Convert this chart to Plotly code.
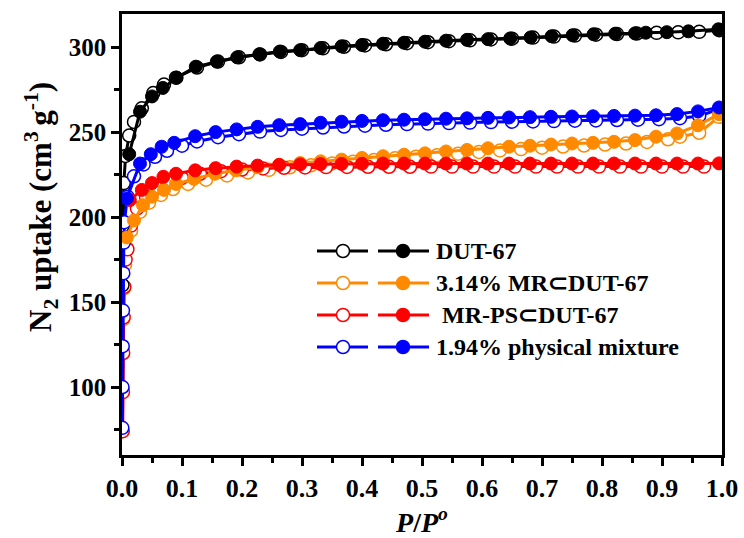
import plotly.graph_objects as go

# ---------------- data ----------------
series_names = ["DUT-67", "3.14% MR\u2282DUT-67", " MR-PS\u2282DUT-67", "1.94% physical mixture"]
series_colors = ["#000000", "#FF8A00", "#FF0000", "#0000FF"]

# DUT-67 (black)
bo_x = [0.0008, 0.0015, 0.003, 0.006, 0.012, 0.02, 0.033, 0.052, 0.07, 0.09, 0.125, 0.16, 0.195, 0.23, 0.265, 0.30, 0.335, 0.37, 0.405, 0.44, 0.475, 0.51, 0.545, 0.58, 0.615, 0.65, 0.685, 0.72, 0.755, 0.79, 0.825, 0.858, 0.891, 0.927, 0.962, 0.995]
bo_y = [160, 195, 220, 236, 248, 256, 264, 273, 278, 282, 288, 291.5, 294, 295.7, 297.2, 298.2, 299.3, 300.2, 301, 301.7, 302.3, 302.9, 303.5, 304, 304.5, 305, 305.6, 306.2, 306.8, 307.3, 307.7, 308, 308.4, 308.7, 309, 310]
bf_x = [0.012, 0.03, 0.05, 0.068, 0.091, 0.123, 0.158, 0.192, 0.229, 0.263, 0.297, 0.331, 0.366, 0.40, 0.435, 0.47, 0.505, 0.54, 0.575, 0.61, 0.647, 0.681, 0.716, 0.751, 0.786, 0.822, 0.855, 0.873, 0.908, 0.944, 0.994]
bf_y = [237, 262, 271, 276, 282, 288.5, 291.5, 294, 295.8, 297.4, 298.2, 299.5, 300.5, 301.3, 302, 302.6, 303.2, 303.8, 304.3, 304.7, 305.1, 305.7, 306.4, 307, 307.6, 307.9, 308.1, 308.5, 308.8, 309.3, 310.5]

# 3.14% MR in DUT-67 (orange)
oo_x = [0.0006, 0.001, 0.0015, 0.002, 0.003, 0.005, 0.008, 0.015, 0.03, 0.045, 0.065, 0.085, 0.11, 0.14, 0.175, 0.21, 0.245, 0.28, 0.315, 0.35, 0.385, 0.42, 0.455, 0.49, 0.525, 0.56, 0.595, 0.63, 0.665, 0.70, 0.735, 0.77, 0.805, 0.84, 0.875, 0.91, 0.93, 0.962, 0.995]
oo_y = [74, 98, 121, 140, 158, 172, 182, 192, 203, 208.5, 213, 216.5, 219.5, 222, 224.5, 226.3, 227.8, 229.3, 230.5, 231.6, 232.6, 233.6, 234.6, 235.5, 236.4, 237.3, 238.3, 239.2, 240, 240.8, 241.5, 242.1, 242.7, 243.3, 244.2, 245.8, 247.3, 249.6, 259]
of_x = [0.008, 0.02, 0.035, 0.05, 0.07, 0.09, 0.12, 0.155, 0.19, 0.226, 0.262, 0.297, 0.331, 0.366, 0.40, 0.435, 0.47, 0.505, 0.54, 0.575, 0.61, 0.645, 0.68, 0.715, 0.75, 0.785, 0.82, 0.855, 0.89, 0.925, 0.96, 0.995]
of_y = [188, 198, 207, 212, 216, 219.5, 222.5, 225.5, 227.5, 229.3, 230.8, 231.8, 232.8, 233.8, 234.8, 235.8, 236.7, 237.5, 238.6, 239.5, 240.5, 241.4, 242, 242.7, 243.3, 243.7, 244.3, 245.3, 247.3, 249.2, 254, 260.6]

# MR-PS in DUT-67 (red)
ro_x = [0.0012, 0.0016, 0.002, 0.0028, 0.004, 0.006, 0.009, 0.015, 0.025, 0.04, 0.058, 0.078, 0.1, 0.13, 0.165, 0.2, 0.235, 0.27, 0.305, 0.34, 0.375, 0.41, 0.445, 0.48, 0.515, 0.55, 0.585, 0.62, 0.655, 0.69, 0.725, 0.76, 0.795, 0.83, 0.865, 0.9, 0.935, 0.97]
ro_y = [74, 97, 120, 141, 159, 175, 181, 195, 205, 212, 217, 220.5, 223, 225.5, 227, 228, 228.6, 229, 229.2, 229.4, 229.5, 229.6, 229.6, 229.6, 229.7, 229.7, 229.7, 229.7, 229.7, 229.7, 229.7, 229.7, 229.7, 229.7, 229.7, 229.7, 229.7, 229.7]
rf_x = [0.013, 0.033, 0.05, 0.069, 0.09, 0.122, 0.156, 0.191, 0.226, 0.262, 0.297, 0.331, 0.366, 0.40, 0.435, 0.47, 0.505, 0.54, 0.575, 0.61, 0.645, 0.68, 0.715, 0.75, 0.785, 0.82, 0.855, 0.89, 0.925, 0.96, 0.995]
rf_y = [210, 216, 220, 223.7, 225.5, 227.5, 228.8, 229.7, 230.3, 230.7, 231, 231.2, 231.3, 231.4, 231.5, 231.5, 231.5, 231.5, 231.5, 231.5, 231.5, 231.5, 231.5, 231.5, 231.5, 231.5, 231.5, 231.5, 231.5, 231.5, 231.6]

# 1.94% physical mixture (blue)
uo_x = [0.0005, 0.0008, 0.0012, 0.0016, 0.0022, 0.003, 0.004, 0.009, 0.02, 0.036, 0.055, 0.075, 0.1, 0.125, 0.16, 0.195, 0.23, 0.265, 0.30, 0.335, 0.37, 0.405, 0.44, 0.475, 0.51, 0.545, 0.58, 0.615, 0.65, 0.685, 0.72, 0.755, 0.79, 0.825, 0.86, 0.895, 0.93, 0.962, 0.995]
uo_y = [76, 100, 124, 145, 167, 185, 197, 212, 224, 231, 235.5, 239, 242, 244.5, 247, 248.8, 250.3, 251.3, 252, 252.7, 253.3, 253.8, 254.3, 254.7, 255, 255.3, 255.6, 255.9, 256.1, 256.3, 256.5, 256.7, 256.9, 257.1, 257.3, 257.6, 258.2, 259.5, 263.5]
uf_x = [0.008, 0.03, 0.048, 0.066, 0.087, 0.122, 0.156, 0.191, 0.226, 0.262, 0.297, 0.331, 0.366, 0.40, 0.435, 0.47, 0.505, 0.54, 0.575, 0.61, 0.645, 0.68, 0.715, 0.75, 0.785, 0.82, 0.855, 0.89, 0.925, 0.96, 0.995]
uf_y = [211, 231.5, 237, 241.4, 243.7, 247.6, 250, 251.6, 253.1, 254.1, 254.7, 255.5, 256.1, 256.6, 257, 257.3, 257.6, 257.9, 258.1, 258.4, 258.6, 258.8, 259, 259.2, 259.3, 259.5, 259.7, 259.9, 260.6, 262.2, 264.5]

x_tick_vals = [0.0, 0.1, 0.2, 0.3, 0.4, 0.5, 0.6, 0.7, 0.8, 0.9, 1.0]
y_tick_vals = [100, 150, 200, 250, 300]

open_sets = [(bo_x, bo_y), (oo_x, oo_y), (ro_x, ro_y), (uo_x, uo_y)]
filled_sets = [(bf_x, bf_y), (of_x, of_y), (rf_x, rf_y), (uf_x, uf_y)]

# ---------------- figure ----------------
FONT = "Liberation Serif"
fig = go.Figure()

draw_order = [1, 2, 0, 3]
for i in draw_order:
    c = series_colors[i]
    ox, oy = open_sets[i]
    fig.add_trace(go.Scatter(
        x=ox, y=oy, mode="lines+markers", showlegend=False,
        line=dict(color=c, width=3),
        marker=dict(symbol="circle", size=13, color="white", line=dict(color=c, width=1.5)),
        cliponaxis=True))
for i in draw_order:
    c = series_colors[i]
    fx, fy = filled_sets[i]
    fig.add_trace(go.Scatter(
        x=fx, y=fy, mode="lines+markers", showlegend=False,
        line=dict(color=c, width=3),
        marker=dict(symbol="circle", size=13, color=c, line=dict(color=c, width=1)),
        cliponaxis=True))

# ---------------- legend (drawn in paper coordinates) ----------------
L, R, T, B = 122, 722, 14, 455
W, H = R - L, B - T
def px(x):
    return (x - L) / W
def py(y):
    return (B - y) / H

shapes = []
annotations = []
rows = [251, 283, 315, 347]
rad = 6.5
for k, yy in enumerate(rows):
    c = series_colors[k]
    for (x0, x1, xc, filled) in [(317, 368, 343, False), (378, 429, 403, True)]:
        shapes.append(dict(type="line", xref="paper", yref="paper",
                           x0=px(x0), x1=px(x1), y0=py(yy), y1=py(yy),
                           line=dict(color=c, width=3)))
        shapes.append(dict(type="circle", xref="paper", yref="paper",
                           x0=px(xc - rad), x1=px(xc + rad),
                           y0=py(yy + rad), y1=py(yy - rad),
                           fillcolor=c if filled else "white",
                           line=dict(color=c, width=1.5)))
    annotations.append(dict(xref="paper", yref="paper", x=px(434), y=py(yy),
                            xanchor="left", yanchor="middle", showarrow=False,
                            text="<b>%s</b>" % series_names[k],
                            font=dict(family=FONT, size=24, color="black")))

# y-axis title as rotated annotation
annotations.append(dict(xref="paper", yref="paper", x=px(41), y=py(207),
                        xanchor="center", yanchor="middle", showarrow=False,
                        textangle=-90,
                        text="<b>N<sub>2</sub> uptake (cm<sup>3 </sup>g<sup>-1</sup>)</b>",
                        font=dict(family=FONT, size=31, color="black")))

fig.update_layout(
    width=744, height=538,
    margin=dict(l=L, r=744 - R, t=T, b=538 - B),
    paper_bgcolor="white", plot_bgcolor="white",
    font=dict(family=FONT, color="black"),
    shapes=shapes, annotations=annotations,
    showlegend=False,
)
fig.update_xaxes(
    range=[0, 1], tickvals=x_tick_vals,
    ticktext=["<b>%.1f</b>" % v for v in x_tick_vals],
    ticks="outside", ticklen=8, tickwidth=2.5, tickcolor="black",
    minor=dict(dtick=0.05, tick0=0, ticks="outside", ticklen=5, tickwidth=2.5, tickcolor="black"),
    showline=True, linewidth=2.5, linecolor="black", mirror=True,
    showgrid=False, zeroline=False, automargin=False,
    tickfont=dict(family=FONT, size=26, color="black"),
    title=dict(text="<b><i>P</i>/<i>P</i><sup><i>o</i></sup></b>",
               font=dict(family=FONT, size=28, color="black"), standoff=4),
)
fig.update_yaxes(
    range=[60, 319.5], tickvals=y_tick_vals,
    ticktext=["<b>%d</b>" % v for v in y_tick_vals],
    ticks="outside", ticklen=8, tickwidth=2.5, tickcolor="black",
    minor=dict(dtick=25, tick0=0, ticks="outside", ticklen=5, tickwidth=2.5, tickcolor="black"),
    showline=True, linewidth=2.5, linecolor="black", mirror=True,
    showgrid=False, zeroline=False, automargin=False,
    tickfont=dict(family=FONT, size=25, color="black"),
)

fig.write_html("out.html")
